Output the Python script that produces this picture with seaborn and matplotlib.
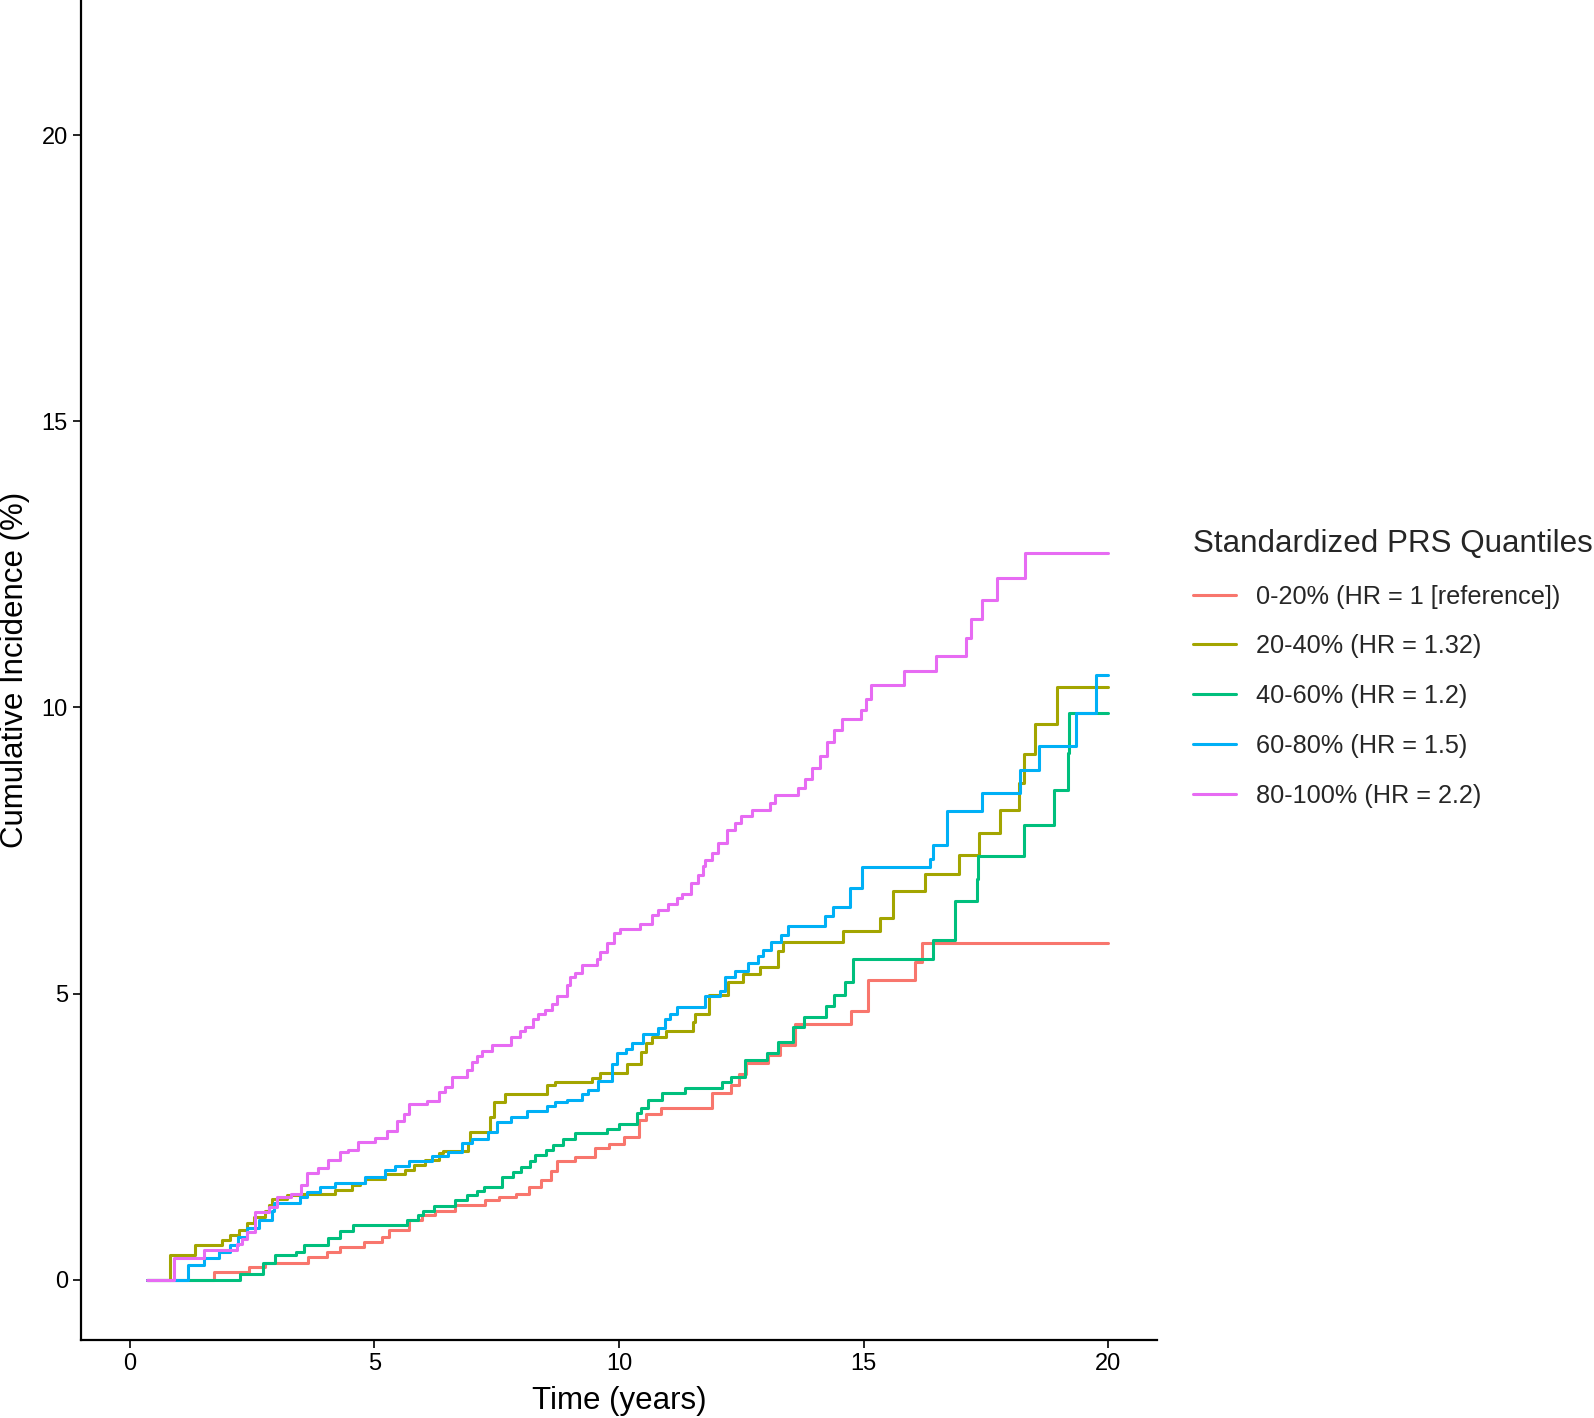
import pandas as pd
import matplotlib.pyplot as plt
import seaborn as sns

# Cumulative incidence curves (step changes)
t_q1 = [0.35, 1.71, 2.43, 2.77, 3.65, 4.03, 4.3, 4.78, 5.15, 5.3, 5.7, 5.97, 6.24, 6.65, 7.26, 7.54, 7.9, 8.15, 8.4, 8.6,
        8.74, 9.1, 9.5, 9.8, 10.1, 10.4, 10.55, 10.86, 11.9, 12.3, 12.45, 12.6, 13.05, 13.3, 13.6, 14.75, 15.1, 16.05, 16.2, 20]
v_q1 = [0, 0.13, 0.22, 0.29, 0.4, 0.49, 0.58, 0.67, 0.75, 0.87, 1.05, 1.13, 1.2, 1.31, 1.39, 1.45, 1.5, 1.62, 1.75, 1.9,
        2.07, 2.15, 2.3, 2.38, 2.5, 2.79, 2.9, 3.0, 3.26, 3.4, 3.6, 3.79, 3.93, 4.1, 4.47, 4.7, 5.24, 5.56, 5.89, 5.89]

t_q2 = [0.35, 0.81, 1.34, 1.88, 2.05, 2.23, 2.4, 2.53, 2.77, 2.85, 2.9, 3.21, 3.48, 4.2, 4.54, 4.7, 4.81, 5.22, 5.63, 5.8,
        6.04, 6.31, 6.4, 6.92, 6.96, 7.37, 7.45, 7.67, 8.52, 8.69, 9.44, 9.61, 10.16, 10.46, 10.55, 10.67, 10.97, 11.52,
        11.55, 11.83, 12.23, 12.54, 12.88, 13.26, 13.35, 14.58, 15.33, 15.6, 16.25, 16.95, 17.36, 17.8, 18.17, 18.29,
        18.5, 18.96, 20]
v_q2 = [0, 0.43, 0.61, 0.69, 0.78, 0.87, 1.0, 1.1, 1.2, 1.31, 1.42, 1.48, 1.5, 1.57, 1.66, 1.7, 1.76, 1.85, 1.92, 2.0,
        2.1, 2.22, 2.26, 2.39, 2.58, 2.85, 3.11, 3.25, 3.4, 3.45, 3.53, 3.62, 3.78, 3.99, 4.14, 4.24, 4.34, 4.5,
        4.64, 4.97, 5.21, 5.34, 5.47, 5.75, 5.9, 6.1, 6.33, 6.79, 7.09, 7.43, 7.81, 8.21, 8.68, 9.18,
        9.72, 10.35, 10.35]

t_q3 = [0.35, 2.26, 2.73, 2.97, 3.4, 3.55, 4.06, 4.3, 4.57, 5.66, 5.9, 6.0, 6.21, 6.65, 6.9, 7.1, 7.23, 7.6, 7.84, 8.0,
        8.19, 8.28, 8.5, 8.65, 8.86, 9.1, 9.75, 10.0, 10.36, 10.45, 10.6, 10.87, 11.35, 12.1, 12.3, 12.57, 13.02, 13.26,
        13.56, 13.79, 14.24, 14.4, 14.62, 14.79, 16.42, 16.87, 17.31, 17.35, 18.28, 18.89, 19.18, 19.2, 20]
v_q3 = [0, 0.11, 0.3, 0.43, 0.49, 0.61, 0.73, 0.85, 0.96, 1.05, 1.13, 1.2, 1.29, 1.39, 1.48, 1.55, 1.62, 1.8, 1.89, 1.97,
        2.07, 2.18, 2.27, 2.35, 2.47, 2.56, 2.63, 2.72, 2.91, 3.0, 3.15, 3.26, 3.36, 3.45, 3.55, 3.84, 3.97, 4.16,
        4.42, 4.6, 4.78, 4.98, 5.21, 5.6, 5.93, 6.62, 7.0, 7.4, 7.95, 8.56, 9.2, 9.9, 9.9]

t_q4 = [0.35, 1.19, 1.51, 1.82, 2.05, 2.2, 2.4, 2.63, 2.9, 2.95, 3.48, 3.62, 3.89, 4.2, 4.81, 5.22, 5.42, 5.7, 6.17, 6.51,
        6.79, 6.99, 7.33, 7.5, 7.8, 8.11, 8.52, 8.7, 8.93, 9.24, 9.37, 9.58, 9.85, 9.95, 10.15, 10.26, 10.5, 10.8, 10.95,
        11.05, 11.18, 11.76, 12.07, 12.17, 12.37, 12.64, 12.85, 12.95, 13.1, 13.32, 13.46, 14.21, 14.38, 14.72, 14.97,
        16.35, 16.42, 16.7, 17.43, 18.2, 18.59, 19.35, 19.75, 20]
v_q4 = [0, 0.26, 0.38, 0.49, 0.61, 0.75, 0.9, 1.05, 1.2, 1.34, 1.45, 1.53, 1.62, 1.7, 1.79, 1.92, 1.99, 2.07, 2.16, 2.24,
        2.39, 2.46, 2.59, 2.76, 2.85, 2.95, 3.03, 3.1, 3.15, 3.25, 3.32, 3.47, 3.78, 3.97, 4.04, 4.13, 4.3, 4.4, 4.56,
        4.64, 4.76, 4.96, 5.05, 5.3, 5.4, 5.53, 5.65, 5.76, 5.9, 6.03, 6.18, 6.35, 6.51, 6.85, 7.21,
        7.35, 7.6, 8.19, 8.5, 8.9, 9.33, 9.91, 10.57, 10.57]

t_q5 = [0.35, 0.9, 1.51, 2.19, 2.3, 2.4, 2.56, 2.84, 3.0, 3.3, 3.5, 3.62, 3.85, 4.06, 4.3, 4.45, 4.67, 5.02, 5.25, 5.46,
        5.6, 5.7, 6.07, 6.31, 6.45, 6.58, 6.89, 6.99, 7.09, 7.2, 7.4, 7.8, 7.98, 8.08, 8.25, 8.35, 8.49, 8.62, 8.73, 8.93,
        9.0, 9.1, 9.24, 9.54, 9.61, 9.75, 9.89, 10.02, 10.43, 10.67, 10.8, 11.0, 11.18, 11.28, 11.48, 11.62, 11.72, 11.76,
        11.9, 12.03, 12.2, 12.37, 12.5, 12.71, 13.09, 13.19, 13.67, 13.8, 13.95, 14.1, 14.25, 14.4, 14.55, 14.95, 15.05,
        15.15, 15.83, 16.49, 17.09, 17.2, 17.42, 17.72, 18.31, 20]
v_q5 = [0, 0.39, 0.53, 0.63, 0.72, 0.84, 1.19, 1.28, 1.44, 1.5, 1.65, 1.86, 1.95, 2.1, 2.24, 2.27, 2.41, 2.48, 2.6, 2.77,
        2.9, 3.07, 3.13, 3.29, 3.37, 3.55, 3.67, 3.8, 3.92, 4.0, 4.1, 4.24, 4.35, 4.42, 4.55, 4.64, 4.72, 4.82, 4.96, 5.15,
        5.29, 5.36, 5.51, 5.6, 5.73, 5.88, 6.06, 6.13, 6.22, 6.38, 6.47, 6.56, 6.67, 6.75, 6.93, 7.07, 7.23, 7.34,
        7.45, 7.63, 7.86, 7.99, 8.1, 8.21, 8.33, 8.47, 8.6, 8.75, 8.95, 9.15, 9.4, 9.6, 9.8, 9.95, 10.15,
        10.4, 10.64, 10.9, 11.21, 11.54, 11.88, 12.26, 12.7, 12.7]

groups = ["0-20% (HR = 1 [reference])", "20-40% (HR = 1.32)", "40-60% (HR = 1.2)",
          "60-80% (HR = 1.5)", "80-100% (HR = 2.2)"]
colors = ["#F8766D", "#A3A500", "#00BF7D", "#00B0F6", "#E76BF3"]

times = [t_q1, t_q2, t_q3, t_q4, t_q5]
values = [v_q1, v_q2, v_q3, v_q4, v_q5]

frames = []
for g, t, v in zip(groups, times, values):
    frames.append(pd.DataFrame({"time": t, "incidence": v, "group": g}))
df = pd.concat(frames, ignore_index=True)

sns.set_style("white")
plt.rcParams["font.family"] = ["Liberation Sans", "DejaVu Sans"]

fig = plt.figure(figsize=(15.94, 14.18), dpi=100)
ax = fig.add_axes([81 / 1594, 1 - 1340 / 1418, (1157 - 81) / 1594, 1340 / 1418])

sns.lineplot(data=df, x="time", y="incidence", hue="group", hue_order=groups,
             palette=colors, drawstyle="steps-post", estimator=None, sort=False,
             linewidth=2.2, ax=ax)

ax.set_xlim(-1, 21)
ax.set_ylim(-1.05, 22.36)
ax.set_xticks([0, 5, 10, 15, 20])
ax.set_yticks([0, 5, 10, 15, 20])
ax.tick_params(axis="both", labelsize=17, colors="black", length=6, width=1.2,
               direction="out", left=True, bottom=True)
ax.set_xlabel("Time (years)", fontsize=22.5, color="black", labelpad=8)
ax.set_ylabel("Cumulative Incidence (%)", fontsize=22.5, color="black", labelpad=8)

for side in ["top", "right"]:
    ax.spines[side].set_visible(False)
for side in ["left", "bottom"]:
    ax.spines[side].set_color("black")
    ax.spines[side].set_linewidth(1.6)

sns.move_legend(ax, "upper left", bbox_to_anchor=(1170 / 1594, 1 - 506 / 1418),
                bbox_transform=fig.transFigure, title="Standardized PRS Quantiles",
                frameon=False, fontsize=18.2, title_fontsize=22.6, handlelength=1.7,
                handletextpad=0.8, labelspacing=1.02, alignment="left")
for line in ax.get_legend().get_lines():
    line.set_linewidth(2.2)

plt.savefig("out.png", dpi=100)
plt.close()
